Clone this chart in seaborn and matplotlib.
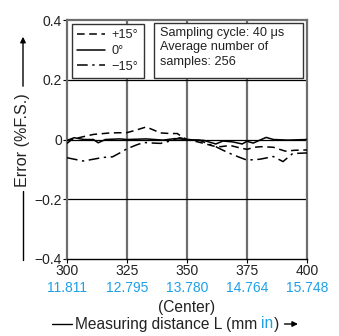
import matplotlib
matplotlib.use("Agg")
import matplotlib.pyplot as plt
import seaborn as sns
import pandas as pd
from matplotlib.lines import Line2D
from matplotlib.patches import Rectangle, FancyArrowPatch

# ---------------- data ----------------
x_ticks_mm = [300, 325, 350, 375, 400]
x_tick_in = ["11.811", "12.795", "13.780", "14.764", "15.748"]
y_ticks = [-0.4, -0.2, 0.0, 0.2, 0.4]
y_tick_labels = ["\u22120.4", "\u22120.2", "0", "0.2", "0.4"]

p15_x = [300, 302, 306, 311, 318, 325, 329, 333, 336, 339, 343, 346, 348, 350, 354, 357, 361, 364, 368, 372, 375, 378, 381, 386, 389, 391, 395, 400]
p15_y = [-0.013, 0.0, 0.008, 0.017, 0.022, 0.023, 0.032, 0.042, 0.032, 0.022, 0.020, 0.020, 0.008, 0.0, -0.007, -0.013, -0.022, -0.024, -0.020, -0.028, -0.033, -0.026, -0.024, -0.026, -0.034, -0.039, -0.036, -0.035]

z0_x = [300, 303, 307, 311, 313, 316, 322, 325, 333, 340, 345, 350, 357, 362, 365, 369, 373, 375, 377.6, 380.4, 383, 386, 392, 400]
z0_y = [-0.003, 0.006, 0.0, 0.0, -0.011, 0.0, 0.002, 0.0, 0.002, -0.002, 0.003, 0.0, -0.003, -0.015, -0.005, -0.008, -0.015, -0.006, -0.012, -0.002, 0.007, 0.0, -0.002, 0.0]

m15_x = [300, 303, 306.8, 311, 315, 319, 322, 325, 329, 332, 336, 339, 343, 347, 350, 355.4, 358, 362, 365, 368, 372, 375, 380.4, 386, 390, 394, 397, 400]
m15_y = [-0.061, -0.066, -0.072, -0.066, -0.060, -0.058, -0.045, -0.031, -0.018, -0.010, -0.012, -0.013, -0.005, 0.006, 0.0, -0.003, -0.012, -0.024, -0.036, -0.047, -0.060, -0.069, -0.066, -0.057, -0.074, -0.047, -0.046, -0.045]

series_labels = ["+15\u00b0", "0\u00b0", "\u221215\u00b0"]
info_lines = ["Sampling cycle: 40 \u03bcs", "Average number of", "samples: 256"]

# ---------------- style ----------------
sns.set_theme(style="white")
plt.rcParams["font.family"] = ["Liberation Sans", "DejaVu Sans"]
FS_TICK = 10
FS_BOX = 9.2
FS_LEG = 9.2
FS_XL = 11.2
FS_YL = 11.6
BLUE = "#1ea0e6"
GREY = "#6e6e6e"
TXT = "#222222"

W, H = 339, 336
fig = plt.figure(figsize=(W / 100, H / 100), dpi=100)
ax = fig.add_axes([67 / W, 1 - 259 / H, 240 / W, 239 / H])

def px(x, y):
    return (x / W, 1 - y / H)

df = pd.concat([
    pd.DataFrame({"L": p15_x, "err": p15_y, "s": series_labels[0]}),
    pd.DataFrame({"L": z0_x, "err": z0_y, "s": series_labels[1]}),
    pd.DataFrame({"L": m15_x, "err": m15_y, "s": series_labels[2]}),
])
styles = {series_labels[0]: (0, (5, 3)), series_labels[1]: "-", series_labels[2]: (0, (7, 3, 1.5, 3))}
handles = []
for lab in series_labels:
    sub = df[df["s"] == lab]
    sns.lineplot(data=sub, x="L", y="err", ax=ax, color="black", lw=1.1,
                 estimator=None, sort=False, legend=False, linestyle=styles[lab], zorder=5)
    handles.append(Line2D([], [], color="black", lw=1.1, linestyle=styles[lab], label=lab))

ax.set_xlim(300, 400)
ax.set_ylim(-0.4, 0.4)
ax.set_xticks(x_ticks_mm)
ax.set_xticklabels([str(v) for v in x_ticks_mm], fontsize=FS_TICK, color=TXT)
ax.set_yticks(y_ticks)
ax.set_yticklabels(y_tick_labels, fontsize=FS_TICK, color=TXT)
ax.tick_params(axis="both", length=3, width=0.8, color="black", pad=0.5, direction="out",
               bottom=True, left=True)
ax.set_xlabel("")
ax.set_ylabel("")

for v in x_ticks_mm[1:-1]:
    ax.axvline(v, color=GREY, lw=1.6, zorder=1)
for v in y_ticks[1:-1]:
    ax.axhline(v, color="black", lw=0.9, zorder=1)

for side in ["left", "right", "top"]:
    ax.spines[side].set_color(GREY)
    ax.spines[side].set_linewidth(1.6)
ax.spines["bottom"].set_color("black")
ax.spines["bottom"].set_linewidth(1.0)

# inch tick labels
for v, t in zip(x_ticks_mm, x_tick_in):
    ax.text(v, -0.121, t, transform=ax.get_xaxis_transform(), ha="center", va="center",
            fontsize=FS_TICK, color=BLUE)
ax.text(350, -0.205, "(Center)", transform=ax.get_xaxis_transform(), ha="center", va="center",
        fontsize=FS_XL, color=TXT)

# legend
leg = ax.legend(handles=handles, loc="upper left", bbox_to_anchor=(0.021, 0.983),
                borderaxespad=0, fancybox=False, framealpha=1, edgecolor="#333333",
                fontsize=FS_LEG, handlelength=2.2, handletextpad=0.5, labelspacing=0.3,
                borderpad=0.4)
leg.get_frame().set_linewidth(1.0)
leg.set_zorder(10)
for t in leg.get_texts():
    t.set_color(TXT)

# info box
ax.add_patch(Rectangle((0.3625, 0.757), 0.983 - 0.3625, 0.987 - 0.757, transform=ax.transAxes,
                       facecolor="white", edgecolor="#333333", lw=1.0, zorder=10))
ax.text(0.3875, 0.972, "\n".join(info_lines), transform=ax.transAxes, ha="left", va="top",
        fontsize=FS_BOX, color=TXT, linespacing=1.3, zorder=11)

# y label with line and arrow
fig.text(*px(23, 140), "Error (%F.S.)", rotation=90, ha="center", va="center", fontsize=FS_YL,
         color=TXT)
fig.add_artist(Line2D([23 / W, 23 / W], [1 - 260 / H, 1 - 191 / H], color="black", lw=1.0,
                      transform=fig.transFigure))
fig.add_artist(FancyArrowPatch(px(23, 89), px(23, 34), transform=fig.transFigure,
               arrowstyle="-|>", mutation_scale=8, color="black", lw=1.0))

# x label pieces
YX = 324
fig.add_artist(Line2D([52 / W, 72 / W], [1 - YX / H, 1 - YX / H], color="black", lw=1.0,
                      transform=fig.transFigure))
fig.canvas.draw()
r = fig.canvas.get_renderer()
t1 = fig.text(*px(75, YX), "Measuring distance L (mm", ha="left", va="center", fontsize=FS_XL,
              color=TXT)
e1 = t1.get_window_extent(r)
t2 = fig.text((e1.x1 + 3.5) / W, 1 - YX / H, "in", ha="left", va="center", fontsize=FS_XL, color=BLUE)
e2 = t2.get_window_extent(r)
t3 = fig.text((e2.x1 + 0.5) / W, 1 - YX / H, ")", ha="left", va="center", fontsize=FS_XL, color=TXT)
e3 = t3.get_window_extent(r)
fig.add_artist(FancyArrowPatch(((e3.x1 + 3) / W, 1 - YX / H),
               ((e3.x1 + 22) / W, 1 - YX / H), transform=fig.transFigure,
               arrowstyle="-|>", mutation_scale=8, color="black", lw=1.0))

fig.savefig("out.png", dpi=100, facecolor="white")
